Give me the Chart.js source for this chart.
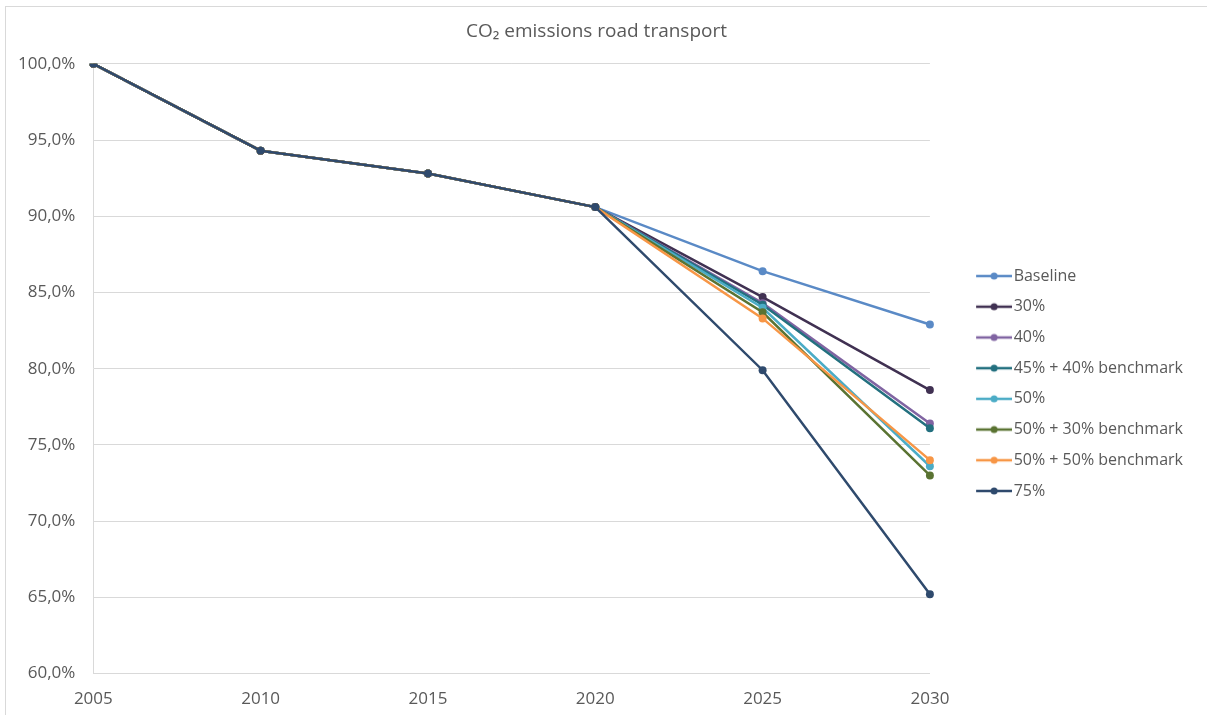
<!DOCTYPE html>
<html>
<head>
<meta charset="utf-8">
<script src="https://cdn.jsdelivr.net/npm/chart.js@4.4.0/dist/chart.umd.min.js"></script>
<style>
  html, body { margin: 0; padding: 0; background: #fff; }
  #wrap { position: relative; width: 1207px; height: 715px; }
  #frame { position: absolute; left: 5px; top: 6px; width: 1220px; height: 730px;
           border-top: 1px solid #d9d9d9; border-left: 1px solid #d9d9d9; }
  canvas { position: absolute; left: 0; top: 0; }
</style>
</head>
<body>
<div id="wrap">
  <div id="frame"></div>
  <canvas id="chart" width="1207" height="715"></canvas>
</div>
<script>
const years = ['2005', '2010', '2015', '2020', '2025', '2030'];

const seriesNames = ['Baseline', '30%', '40%', '45% + 40% benchmark', '50%',
    '50% + 30% benchmark', '50% + 50% benchmark', '75%'];

const baseline = [100, 94.3, 92.8, 90.6, 86.4, 82.9];
const cut30 = [100, 94.3, 92.8, 90.6, 84.7, 78.6];
const cut40 = [100, 94.3, 92.8, 90.6, 84.3, 76.4];
const cut45b40 = [100, 94.3, 92.8, 90.6, 84.2, 76.1];
const cut50 = [100, 94.3, 92.8, 90.6, 84.0, 73.6];
const cut50b30 = [100, 94.3, 92.8, 90.6, 83.7, 73.0];
const cut50b50 = [100, 94.3, 92.8, 90.6, 83.3, 74.0];
const cut75 = [100, 94.3, 92.8, 90.6, 79.9, 65.2];

const seriesValues = [baseline, cut30, cut40, cut45b40, cut50, cut50b30, cut50b50, cut75];
const seriesColors = ['#5A8AC6', '#403152', '#8064A2', '#23707F', '#4BACC6', '#5A7332', '#F79646', '#2F4A6D'];

const yTicks = [60, 65, 70, 75, 80, 85, 90, 95, 100];

const ctx = document.getElementById('chart').getContext('2d');

/**
 * Legend marker: short line with a dot, shifted right inside a wider box
 */
function legendMarker(color) {
    const c = document.createElement('canvas');
    c.width = 74;
    c.height = 10;
    const g = c.getContext('2d');
    g.strokeStyle = color;
    g.lineWidth = 2.5;
    g.beginPath();
    g.moveTo(38, 5);
    g.lineTo(74, 5);
    g.stroke();
    g.fillStyle = color;
    g.beginPath();
    g.arc(56, 5, 3.5, 0, Math.PI * 2);
    g.fill();
    return c;
}

const datasets = seriesNames.map((name, i) => ({
    label: name,
    data: seriesValues[i],
    borderColor: seriesColors[i],
    backgroundColor: seriesColors[i],
    borderWidth: 2.5,
    pointRadius: 4,
    pointHoverRadius: 4,
    pointBorderWidth: 0,
    legendStyle: legendMarker(seriesColors[i]),
    tension: 0,
    order: seriesNames.length - i
}));

const chartConfig = {
    type: 'line',
    data: {
        labels: years,
        datasets: datasets
    },
    options: {
        responsive: false,
        animation: false,
        devicePixelRatio: 1,
        layout: {
            padding: { left: 0, right: 14, top: 0, bottom: -9 }
        },
        plugins: {
            title: {
                display: true,
                text: 'CO\u2082 emissions road transport',
                color: '#595959',
                font: { family: 'Open Sans', size: 19, weight: 'normal' },
                padding: { top: 20, bottom: 21 }
            },
            legend: {
                position: 'right',
                align: 'center',
                title: { display: true, text: ' ', font: { size: 10 }, padding: { top: 5, bottom: 26 } },
                labels: {
                    color: '#595959',
                    font: { family: 'Open Sans', size: 16 },
                    usePointStyle: true,
                    pointStyleWidth: 61,
                    padding: 14.7,
                    generateLabels: chart => chart.data.datasets.map((ds, i) => ({
                        text: ds.label,
                        fillStyle: ds.borderColor,
                        strokeStyle: ds.borderColor,
                        fontColor: '#595959',
                        lineWidth: 0,
                        pointStyle: ds.legendStyle,
                        hidden: false,
                        datasetIndex: i
                    }))
                }
            },
            tooltip: { enabled: false }
        },
        scales: {
            x: {
                type: 'category',
                offset: false,
                grid: { display: false, drawTicks: false },
                border: { display: true, color: '#d9d9d9', width: 1 },
                ticks: {
                    color: '#595959',
                    font: { family: 'Open Sans', size: 17 },
                    padding: 15,
                    maxRotation: 0
                }
            },
            y: {
                min: 60,
                max: 100,
                afterBuildTicks: axis => { axis.ticks = yTicks.map(v => ({ value: v })); },
                grid: { color: '#d9d9d9', drawTicks: false },
                border: { display: true, color: '#d9d9d9', width: 1 },
                ticks: {
                    color: '#595959',
                    font: { family: 'Open Sans', size: 17 },
                    padding: 18,
                    callback: v => v.toFixed(1).replace('.', ',') + '%'
                }
            }
        }
    }
};

const chart = new Chart(ctx, chartConfig);
</script>
</body>
</html>
